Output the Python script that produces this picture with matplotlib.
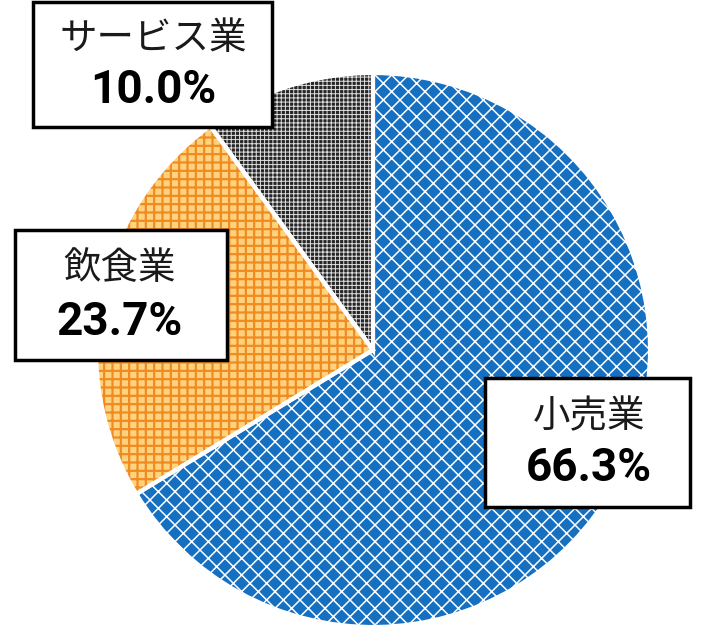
import matplotlib
matplotlib.use("Agg")
import matplotlib.pyplot as plt
from matplotlib.patches import Rectangle

plt.rcParams['font.family'] = ['Noto Sans CJK JP', 'DejaVu Sans']

labels = ['小売業', '飲食業', 'サービス業']
shares = [66.3, 23.7, 10.0]
pct_text = ['66.3%', '23.7%', '10.0%']

face_colors = ['#1670C2', '#FFD37E', '#262626']
hatch_colors = ['#FFFFFF', '#F08A22', '#E0E0E0']
hatches = ['xx', '++', '++++']
hatch_lw = [1.1, 1.6, 0.7]

# label boxes (pixel coords, y up): x, y, w, h, text centre x, name y, pct y
boxes = [
    (485, 120, 205, 129, 589, 210, 159),
    (15, 267, 212, 130, 120, 359, 305),
    (33, 500, 239, 125, 153, 589, 537),
]

fig = plt.figure(figsize=(7.05, 6.27), dpi=100)
ax = fig.add_axes([0, 0, 1, 1])

wedges, _ = ax.pie(shares, startangle=90, counterclock=False,
                   center=(373, 277), radius=277)
for w, fc, hc, h, lw in zip(wedges, face_colors, hatch_colors, hatches, hatch_lw):
    w.set_facecolor(fc)
    w.set_edgecolor(hc)
    w.set_linewidth(0)
    w.set_hatch(h)
    if hasattr(w, 'set_hatch_linewidth'):
        w.set_hatch_linewidth(lw)

# white separators between slices
ax.pie(shares, startangle=90, counterclock=False, center=(373, 277), radius=277,
       wedgeprops=dict(facecolor='none', edgecolor='white', linewidth=3))

for (bx, by, bw, bh, tx, ny, py), name, pct in zip(boxes, labels, pct_text):
    ax.add_patch(Rectangle((bx, by), bw, bh, facecolor='white', edgecolor='black',
                           linewidth=2.5, zorder=5))
    ax.text(tx, ny, name, fontsize=27, ha='center', va='center', zorder=6,
            color='#1a1a1a')
    ax.text(tx, py, pct, fontsize=33, ha='center', va='center', zorder=6,
            fontweight='bold', family=['Roboto', 'DejaVu Sans'])

ax.set_xlim(0, 705)
ax.set_ylim(0, 627)
ax.set_aspect('equal')
ax.axis('off')

fig.savefig('out.png', dpi=100)
